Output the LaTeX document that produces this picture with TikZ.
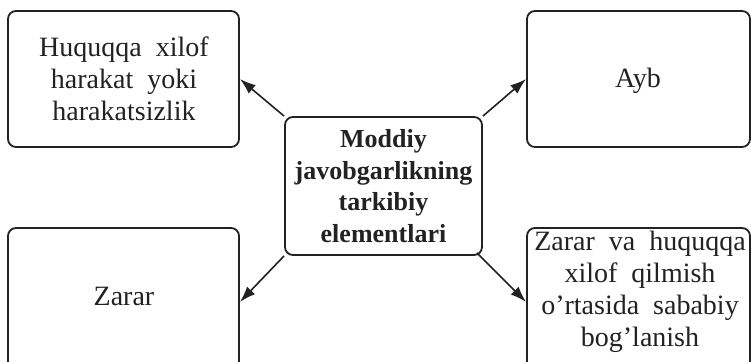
\documentclass[tikz,border=0pt]{standalone}
\usepackage{fontspec}
\setmainfont{Liberation Serif}
\usetikzlibrary{arrows.meta}
\definecolor{ink}{HTML}{222222}
\newcommand{\gap}{\hspace{0.5em}}
\begin{document}
\begin{tikzpicture}[x=1pt,y=-1pt,
  box/.style={draw=ink,line width=1.8pt,rounded corners=8pt,fill=white,inner sep=0pt},
  lbl/.style={text=ink,align=center,font=\fontsize{28}{32}\selectfont,inner sep=0pt},
  hub/.style={box,align=center,text=ink,font=\fontsize{26}{31.5}\selectfont\bfseries},
  link/.style={draw=ink,line width=1.6pt,-{Latex[length=16pt,width=11pt]}}]
\useasboundingbox (0,0) rectangle (751,361);
% outer boxes
\node[box,minimum width=231pt,minimum height=136pt] (tl) at (123.5,79) {};
\node[box,minimum width=223pt,minimum height=136pt] (tr) at (638.5,79) {};
\node[box,minimum width=231pt,minimum height=148pt] (bl) at (123.5,302) {};
\node[box,minimum width=223pt,minimum height=148pt] (br) at (638.5,302) {};
% labels
\node[lbl] (tlt) at (124,79) {Huquqqa\gap xilof\\harakat\gap yoki\\harakatsizlik};
\node[lbl,anchor=base] (trt) at (638,87) {Ayb};
\node[lbl,anchor=base] (blt) at (124,305) {Zarar};
\node[lbl] (brt) at (640,292) {Zarar\gap va\gap huquqqa\\xilof\gap qilmish\\o’rtasida\gap sababiy\\bog’lanish};
% central box
\node[hub,minimum width=197pt,minimum height=138pt] (c) at (383.5,186)
  {Moddiy\\javobgarlikning\\tarkibiy\\elementlari};
% connectors
\draw[link] (c.north west) -- (tl.east);
\draw[link] (c.north east) -- (tr.west);
\draw[link] (c.south west) -- (bl.east);
\draw[link] ([xshift=-6pt,yshift=3pt]c.south east) -- (br.west);
\end{tikzpicture}
\end{document}
